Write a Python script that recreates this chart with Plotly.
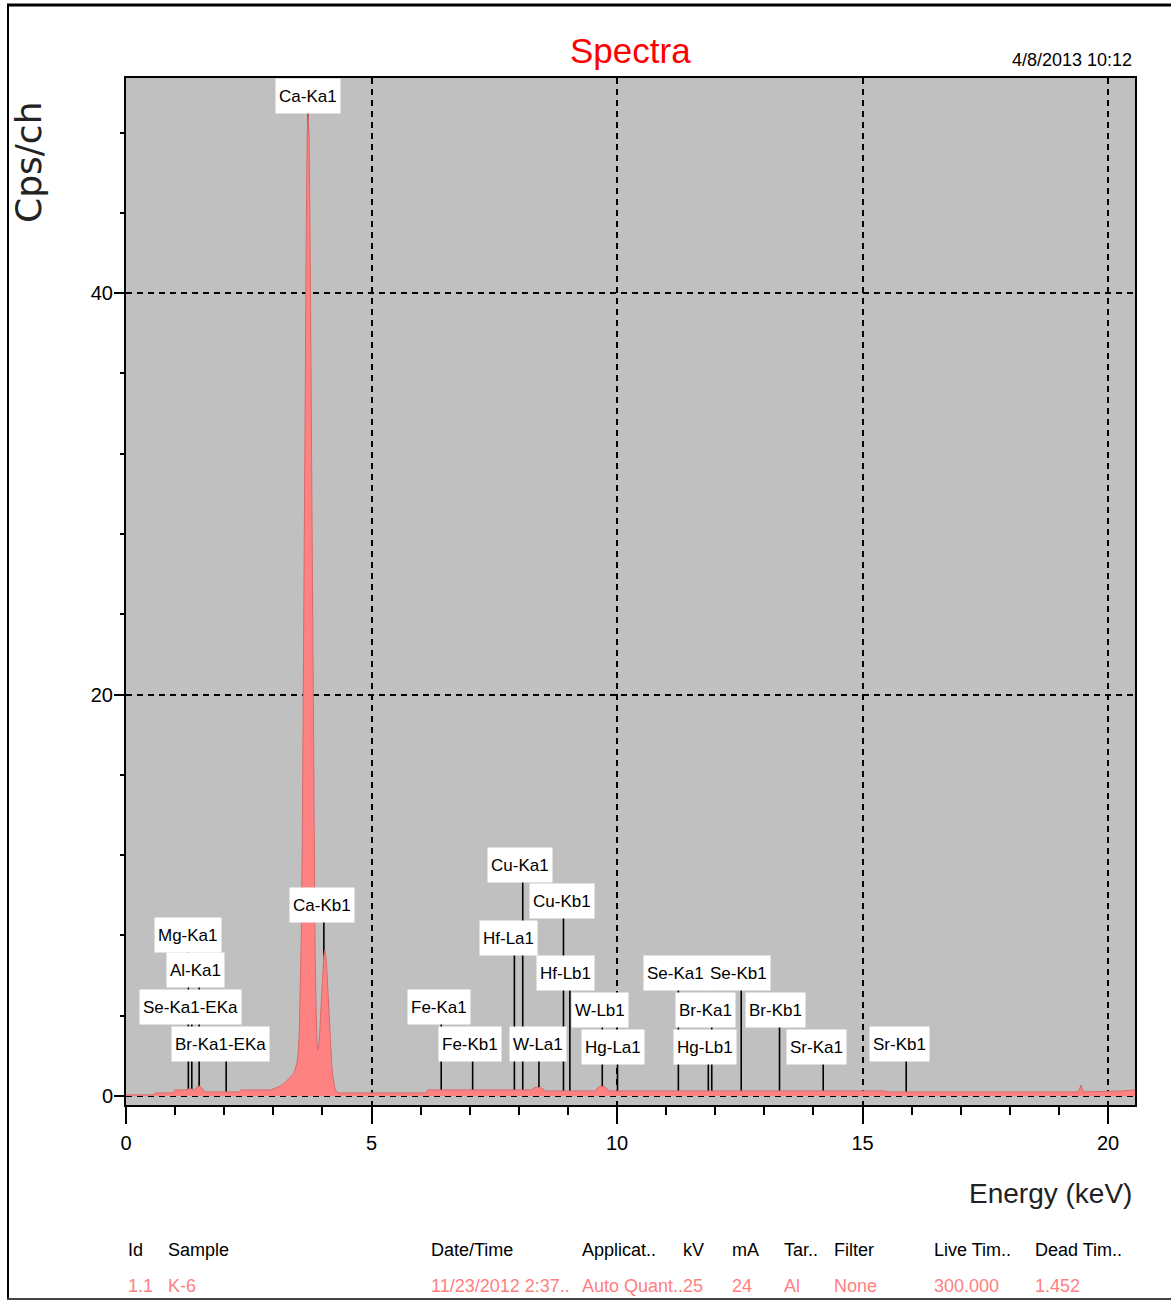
import plotly.graph_objects as go

# ---------------------------------------------------------------- data
# Spectrum: channel energy (keV) and count rate (Cps/ch)
energy = [0.00, 0.50, 0.55, 0.60, 0.95, 1.00, 1.20, 1.27, 1.34, 1.40, 1.45, 1.50,
          1.55, 1.62, 2.04, 2.30, 2.35, 2.95, 3.05, 3.15, 3.25, 3.33, 3.37,
          3.41, 3.43, 3.45, 3.47, 3.49, 3.51, 3.53, 3.55, 3.57, 3.59, 3.61, 3.63,
          3.65, 3.67, 3.69, 3.71, 3.73, 3.75, 3.77, 3.79, 3.81, 3.83, 3.85, 3.87,
          3.89, 3.91, 3.93, 3.95, 3.97, 3.99, 4.01, 4.03, 4.05, 4.07, 4.09, 4.11,
          4.13, 4.15, 4.17, 4.19, 4.21, 4.23, 4.25, 4.27, 4.29, 4.31, 4.35,
          6.10, 6.15, 8.25, 8.35, 8.45, 8.55, 9.55, 9.65, 9.75, 9.85,
          15.45, 15.50, 19.40, 19.45, 19.50, 20.30, 20.55]
cps = [0.05, 0.05, 0.05, 0.15, 0.15, 0.30, 0.30, 0.35, 0.35, 0.30, 0.45, 0.50,
       0.35, 0.20, 0.20, 0.20, 0.30, 0.30, 0.40, 0.50, 0.70, 0.90, 1.00,
       1.10, 1.22, 1.35, 1.54, 1.75, 2.23, 3.15, 4.90, 7.90, 12.5, 18.8, 26.6,
       34.9, 42.6, 47.9, 49.0, 47.8, 42.4, 34.7, 26.2, 18.4, 12.0, 7.40, 4.55,
       2.70, 2.30, 2.60, 3.40, 4.40, 5.35, 6.30, 7.00, 7.25, 7.00, 6.30, 5.30,
       4.20, 3.10, 2.20, 1.54, 1.00, 0.64, 0.43, 0.30, 0.22, 0.17, 0.15,
       0.15, 0.30, 0.30, 0.45, 0.40, 0.25, 0.25, 0.50, 0.45, 0.25,
       0.25, 0.20, 0.20, 0.55, 0.20, 0.25, 0.30]

# Identified element lines (keV)
line_names = ["Mg-Ka1", "Se-Ka1-EKa", "Al-Ka1", "Br-Ka1-EKa", "Ca-Ka1", "Ca-Kb1",
              "Fe-Ka1", "Fe-Kb1", "Hf-La1", "Cu-Ka1", "W-La1", "Cu-Kb1", "Hf-Lb1",
              "W-Lb1", "Hg-La1", "Se-Ka1", "Hg-Lb1", "Br-Ka1", "Se-Kb1", "Br-Kb1",
              "Sr-Ka1", "Sr-Kb1"]
line_energy = [1.27, 1.34, 1.49, 2.04, 3.71, 4.03,
               6.42, 7.06, 7.91, 8.08, 8.41, 8.91, 9.04,
               9.70, 10.01, 11.25, 11.86, 11.93, 12.53, 13.31,
               14.20, 15.89]

# Where each line's tag sits (keV, Cps/ch)
label_x = [1.26, 1.32, 1.41, 1.93, 3.71, 3.99,
           6.37, 7.01, 7.80, 8.02, 8.39, 8.88, 8.96,
           9.65, 9.92, 11.20, 11.79, 11.81, 12.48, 13.22,
           14.07, 15.76]
label_y = [8.02, 4.43, 6.28, 2.59, 49.83, 9.52,
           4.43, 2.59, 7.87, 11.51, 2.59, 9.72, 6.13,
           4.28, 2.44, 6.13, 2.44, 4.28, 6.13, 4.28,
           2.44, 2.59]

x_ticks = [0, 5, 10, 15, 20]
y_ticks = [0, 20, 40]

table_headers = ["Id", "Sample", "Date/Time", "Applicat..", "kV", "mA", "Tar..",
                 "Filter", "Live Tim..", "Dead Tim.."]
table_values = ["1.1", "K-6", "11/23/2012 2:37..", "Auto Quant..", "25", "24", "Al",
                "None", "300.000", "1.452"]

# ---------------------------------------------------------------- layout helpers
W, H = 1171, 1302
L, R, T, B = 126, 1135, 78, 1105
SANS = "Liberation Sans, Arial, sans-serif"
table_cols_px = [126, 166, 429, 580, 681, 730, 782, 832, 932, 1033]


def px_x(p):
    return (p - L) / (R - L)


def px_y(p):
    return (B - p) / (B - T)


fig = go.Figure()

# marker lines from the baseline up to their tags
seg_x, seg_y = [], []
for e, ly in zip(line_energy, label_y):
    seg_x += [e, e, None]
    seg_y += [0, ly, None]
fig.add_trace(go.Scatter(x=seg_x, y=seg_y, mode="lines",
                         line=dict(color="black", width=1.6),
                         hoverinfo="skip", showlegend=False))

# spectrum
fig.add_trace(go.Scatter(x=energy, y=cps, mode="lines", fill="tozeroy",
                         fillcolor="#FF8282", line=dict(color="#D86A6A", width=1),
                         showlegend=False))

annotations = []
for name, lx, ly in zip(line_names, label_x, label_y):
    annotations.append(dict(x=lx, y=ly, xref="x", yref="y", text=name,
                            showarrow=False, bgcolor="white", borderpad=3,
                            height=28,
                            font=dict(family=SANS, size=17, color="black"),
                            xanchor="center", yanchor="middle"))

annotations += [
    dict(x=px_x(630), y=px_y(50), xref="paper", yref="paper", text="Spectra",
         showarrow=False, xanchor="center", yanchor="middle",
         font=dict(family=SANS, size=35, color="#FF0000")),
    dict(x=px_x(1134), y=px_y(60), xref="paper", yref="paper", text="4/8/2013 10:12",
         showarrow=False, xanchor="right", yanchor="middle",
         font=dict(family=SANS, size=18, color="black")),
    dict(x=px_x(28), y=px_y(163), xref="paper", yref="paper", text="Cps/ch",
         textangle=-90, showarrow=False, xanchor="center", yanchor="middle",
         font=dict(family="DejaVu Sans, sans-serif", size=36, color="#222222")),
    dict(x=px_x(1134), y=px_y(1193), xref="paper", yref="paper", text="Energy (keV)",
         showarrow=False, xanchor="right", yanchor="middle",
         font=dict(family=SANS, size=28, color="#222222")),
]
for cx, hd, val in zip(table_cols_px, table_headers, table_values):
    annotations.append(dict(x=px_x(cx), y=px_y(1250), xref="paper", yref="paper",
                            text=hd, showarrow=False, xanchor="left", yanchor="middle",
                            font=dict(family=SANS, size=18, color="black")))
    annotations.append(dict(x=px_x(cx), y=px_y(1286), xref="paper", yref="paper",
                            text=val, showarrow=False, xanchor="left", yanchor="middle",
                            font=dict(family=SANS, size=18, color="#FF8080")))

# outer frame of the report page
shapes = [
    dict(type="line", xref="paper", yref="paper", x0=px_x(7), x1=px_x(1171),
         y0=px_y(5), y1=px_y(5), line=dict(color="black", width=3)),
    dict(type="line", xref="paper", yref="paper", x0=px_x(8), x1=px_x(8),
         y0=px_y(5), y1=px_y(1299), line=dict(color="black", width=2)),
    dict(type="line", xref="paper", yref="paper", x0=px_x(7), x1=px_x(1171),
         y0=px_y(1299), y1=px_y(1299), line=dict(color="#444444", width=2)),
]

grid_style = dict(showgrid=True, gridcolor="black", gridwidth=1.5, griddash="6px,5px")

fig.update_layout(
    width=W, height=H,
    margin=dict(l=L, r=W - R, t=T, b=H - B, pad=0),
    paper_bgcolor="white", plot_bgcolor="#C0C0C0",
    showlegend=False,
    annotations=annotations,
    shapes=shapes,
    xaxis=dict(range=[0, 20.55], tickvals=x_ticks, ticktext=[str(v) for v in x_ticks],
               ticks="outside", ticklen=17, tickwidth=1.5, tickcolor="black",
               minor=dict(dtick=1, tick0=0, ticks="outside", ticklen=8,
                          tickwidth=1.5, tickcolor="black", showgrid=False),
               showline=True, linecolor="black", linewidth=2, mirror=True,
               zeroline=False, ticklabelstandoff=2,
               tickfont=dict(family=SANS, size=20, color="black"), **grid_style),
    yaxis=dict(range=[-0.45, 50.72], tickvals=y_ticks, ticktext=[str(v) for v in y_ticks],
               ticks="outside", ticklen=10, tickwidth=1.5, tickcolor="black",
               minor=dict(dtick=4, tick0=0, ticks="outside", ticklen=4,
                          tickwidth=1.5, tickcolor="black", showgrid=False),
               showline=True, linecolor="black", linewidth=2, mirror=True,
               zeroline=False, ticklabelstandoff=-3,
               tickfont=dict(family=SANS, size=20, color="black"), **grid_style),
)

fig.write_html("out.html")
